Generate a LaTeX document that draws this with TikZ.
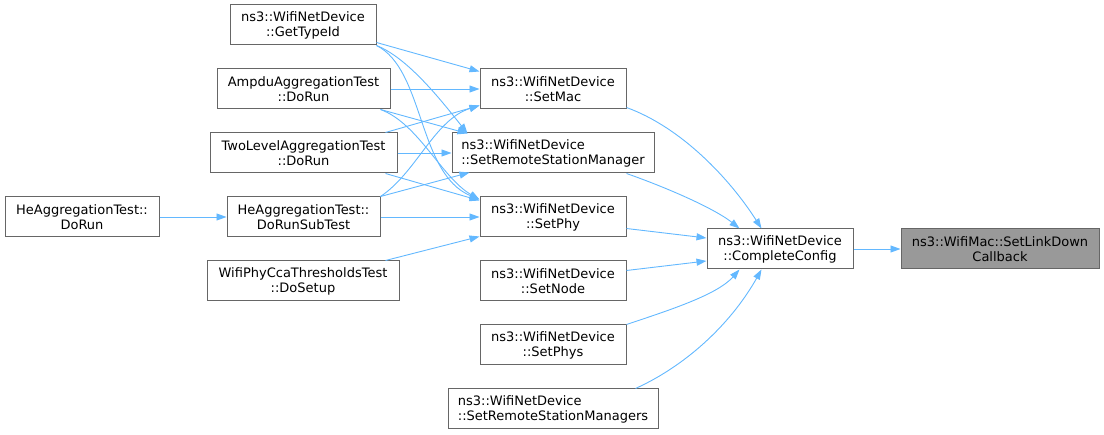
\documentclass[tikz,border=0pt]{standalone}
\usepackage{fontspec}
\setmainfont{DejaVu Sans}
\usetikzlibrary{arrows.meta,calc}
\definecolor{edgec}{HTML}{63B8FF}
\definecolor{boxc}{HTML}{666666}
\definecolor{hil}{HTML}{999999}
\begin{document}
\begin{tikzpicture}[x=1pt,y=-1pt,
  box/.style={draw=boxc,line width=1pt,fill=white,inner sep=0pt,align=center,
    font=\fontsize{13}{15}\selectfont},
  lbox/.style={box,align=left},
  hbox/.style={box,fill=hil},
  conn/.style={draw=edgec,line width=0.9pt,-{Triangle[length=10pt,width=7pt]}}]
\useasboundingbox (0,0) rectangle (1104,435);
% left column
\node[box,minimum width=146pt,minimum height=40pt] (gt) at (303,25) {ns3::WifiNetDevice\\::GetTypeId};
\node[box,minimum width=173pt,minimum height=40pt] (amp) at (303.5,89) {AmpduAggregationTest\\::DoRun};
\node[box,minimum width=187pt,minimum height=40pt] (two) at (303.5,153) {TwoLevelAggregationTest\\::DoRun};
\node[box,minimum width=154pt,minimum height=40pt] (hed) at (82,217) {HeAggregationTest::\\DoRun};
\node[box,minimum width=153pt,minimum height=40pt] (hes) at (303.5,217) {HeAggregationTest::\\DoRunSubTest};
\node[box,minimum width=192pt,minimum height=40pt] (cca) at (303,281) {WifiPhyCcaThresholdsTest\\::DoSetup};
% middle column
\node[box,minimum width=146pt,minimum height=40pt] (mac) at (553,89) {ns3::WifiNetDevice\\::SetMac};
\node[lbox,minimum width=202pt,minimum height=40pt] (rsm) at (553,153) {ns3::WifiNetDevice\\::SetRemoteStationManager};
\node[box,minimum width=146pt,minimum height=40pt] (phy) at (553,217) {ns3::WifiNetDevice\\::SetPhy};
\node[box,minimum width=146pt,minimum height=40pt] (node) at (553,281) {ns3::WifiNetDevice\\::SetNode};
\node[box,minimum width=146pt,minimum height=40pt] (phys) at (553,345) {ns3::WifiNetDevice\\::SetPhys};
\node[lbox,minimum width=210pt,minimum height=40pt] (rsms) at (553,409) {ns3::WifiNetDevice\\::SetRemoteStationManagers};
% right
\node[box,minimum width=146pt,minimum height=40pt] (cc) at (780,249) {ns3::WifiNetDevice\\::CompleteConfig};
\node[hbox,minimum width=198pt,minimum height=40pt] (sl) at (1000,249) {ns3::WifiMac::SetLinkDown\\Callback};
% edges left -> middle
\draw[conn] ($(gt.south east)+(0,-3)$) -- ($(mac.north west)+(0,3)$);
\draw[conn] (gt.south east) .. controls +(30,12) and +(-30,-38) .. ($(rsm.north west)+(16,1)$);
\draw[conn] (gt.south east) .. controls +(48,24) and +(-62,-26) .. ($(phy.north west)+(0,3)$);
\draw[conn] (amp.east) -- (mac.west);
\draw[conn] ($(amp.south east)+(-10,0)$) -- ($(rsm.north west)+(16,1)$);
\draw[conn] ($(amp.south east)+(-10,0)$) .. controls +(38,14) and +(-38,-22) .. ($(phy.north west)+(0,3)$);
\draw[conn] ($(two.north east)+(-12,0)$) -- ($(mac.south west)+(0,-4)$);
\draw[conn] (two.east) -- (rsm.west);
\draw[conn] ($(two.south east)+(-12,0)$) -- ($(phy.north west)+(0,4)$);
\draw[conn] (hes.north east) .. controls +(36,-24) and +(-45,14) .. ($(mac.south west)+(0,-4)$);
\draw[conn] (hes.north east) -- ($(rsm.south west)+(18,-1)$);
\draw[conn] (hes.east) -- (phy.west);
\draw[conn] ($(cca.north east)+(-14,0)$) -- ($(phy.south west)+(0,-1)$);
\draw[conn] (hed.east) -- (hes.west);
% middle -> CompleteConfig
\draw[conn] ($(mac.south east)+(0,-2)$) .. controls +(55,20) and +(-32,-50) .. ($(cc.north west)+(55,0)$);
\draw[conn] ($(rsm.south east)+(-28,0)$) .. controls +(40,14) and +(-25,-20) .. ($(cc.north west)+(33,0)$);
\draw[conn] ($(phy.south east)+(0,-9)$) -- ($(cc.west)+(0,-11)$);
\draw[conn] ($(node.north east)+(0,10)$) -- ($(cc.west)+(0,12)$);
\draw[conn] (phys.north east) .. controls +(45,-15) and +(-22,25) .. ($(cc.south west)+(33,0)$);
\draw[conn] ($(rsms.north east)+(-23,0)$) .. controls +(55,-25) and +(-28,50) .. ($(cc.south west)+(55,0)$);
\draw[conn] (cc.east) -- (sl.west);
\end{tikzpicture}
\end{document}
